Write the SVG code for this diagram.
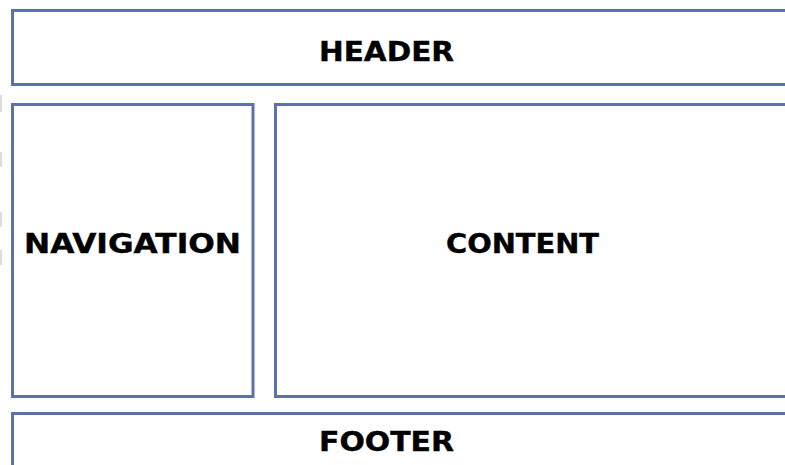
<svg xmlns="http://www.w3.org/2000/svg" width="785" height="465" viewBox="0 0 785 465">
<style>
.box{fill:#ffffff;stroke:#5a72a9;stroke-width:3}
.lbl{font-family:"DejaVu Sans","Verdana",sans-serif;font-weight:bold;font-size:26px;fill:#000000;text-anchor:middle;stroke:#000000;stroke-width:0.4}
.mark{fill:#dcdcdc}
</style>
<rect width="785" height="465" fill="#ffffff"/>
<g id="edge-marks">
<rect class="mark" x="0" y="95" width="2" height="17"/>
<rect class="mark" x="0" y="152" width="2" height="15"/>
<rect class="mark" x="0" y="212" width="2" height="15"/>
<rect class="mark" x="0" y="250" width="2" height="15"/>
</g>
<g id="connectors"></g>
<g id="header">
<rect class="box" x="12.5" y="10.5" width="800" height="74"/>
<text class="lbl" x="386.5" y="61" textLength="135" lengthAdjust="spacingAndGlyphs">HEADER</text>
</g>
<g id="navigation">
<rect class="box" x="12.5" y="104.5" width="240.5" height="292"/>
<text class="lbl" x="132.5" y="253" textLength="217" lengthAdjust="spacingAndGlyphs">NAVIGATION</text>
</g>
<g id="content">
<rect class="box" x="275.5" y="104.5" width="540" height="292"/>
<text class="lbl" x="522.5" y="253" textLength="153" lengthAdjust="spacingAndGlyphs">CONTENT</text>
</g>
<g id="footer">
<rect class="box" x="12.5" y="413.5" width="800" height="80"/>
<text class="lbl" x="386.5" y="451" textLength="135" lengthAdjust="spacingAndGlyphs">FOOTER</text>
</g>
</svg>
